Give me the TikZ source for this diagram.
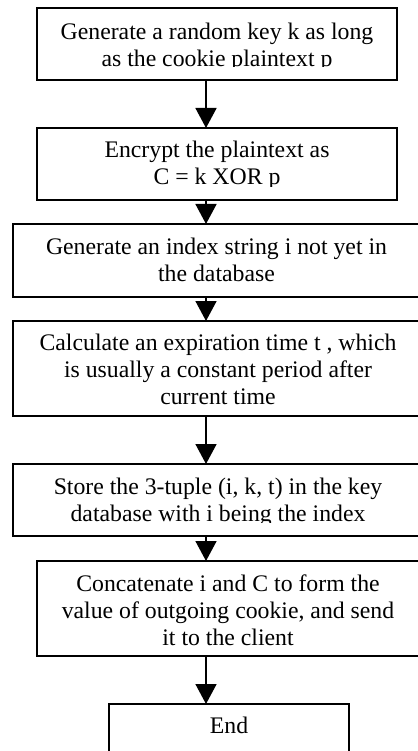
\documentclass[tikz,border=0pt]{standalone}
\usepackage{fontspec}
\setmainfont{Liberation Serif}
\usetikzlibrary{arrows.meta}
\begin{document}
\begin{tikzpicture}[x=1pt,y=-1pt,
  stepbox/.style={draw, line width=1.6pt, anchor=north west, inner sep=0pt, outer sep=0pt},
  steptext/.style={anchor=base, align=center, inner sep=0pt,
    font=\fontsize{23.75}{27}\selectfont},
  flow/.style={line width=1.6pt, -{Triangle[width=21pt,length=20pt]}}]
\useasboundingbox (0,0) rectangle (417,751);

% process boxes
\node[stepbox, minimum width=360pt, minimum height=72pt] (b1) at (37,8) {};
\node[stepbox, minimum width=360pt, minimum height=72pt] (b2) at (37,128) {};
\node[stepbox, minimum width=407pt, minimum height=73pt] (b3) at (13,224) {};
\node[stepbox, minimum width=410pt, minimum height=95pt] (b4) at (13,321) {};
\node[stepbox, minimum width=410pt, minimum height=72pt] (b5) at (13,464) {};
\node[stepbox, minimum width=382pt, minimum height=95pt] (b6) at (37,561) {};
\node[stepbox, minimum width=240pt, minimum height=70pt] (b7) at (109,704) {};

% box texts (placed by the baseline of their last line), each cut off by its frame
\begin{scope}
  \clip (b1.north west) rectangle (417,67);
  \node[steptext] (t1) at (b1.center |- 0,66.3) {Generate a random key k as long\\as the cookie plaintext p};
\end{scope}
\begin{scope}
  \clip (b2.north west) rectangle (417,186.7);
  \node[steptext] (t2) at (b2.center |- 0,184.7) {Encrypt the plaintext as\\C = k XOR p};
\end{scope}
\node[steptext] (t3) at (b3.center |- 0,281) {Generate an index string i not yet in\\the database};
\begin{scope}
  \clip (b4.north west) rectangle (430,404);
  \node[steptext] (t4) at (b4.center |- 0,404.5) {Calculate an expiration time t , which\\is usually a constant period after\\current time};
\end{scope}
\begin{scope}
  \clip (b5.north west) rectangle (430,522);
  \node[steptext] (t5) at (b5.center |- 0,521.3) {Store the 3-tuple (i, k, t) in the key\\database with i being the index};
\end{scope}
\begin{scope}
  \clip (b6.north west) rectangle (430,646.5);
  \node[steptext] (t6) at (b6.center |- 0,645.7) {Concatenate i and C to form the\\value of outgoing cookie, and send\\it to the client};
\end{scope}
\node[steptext] (t7) at (b7.center |- 0,733) {End};

% connectors
\coordinate (ax) at (206,0);
\draw[flow] (b1.south -| ax) -- (b2.north -| ax);
\draw[flow] (b2.south -| ax) -- (b3.north -| ax);
\draw[flow] (b3.south -| ax) -- (b4.north -| ax);
\draw[flow] (b4.south -| ax) -- (b5.north -| ax);
\draw[flow] (b5.south -| ax) -- (b6.north -| ax);
\draw[flow] (b6.south -| ax) -- (b7.north -| ax);
\end{tikzpicture}
\end{document}
